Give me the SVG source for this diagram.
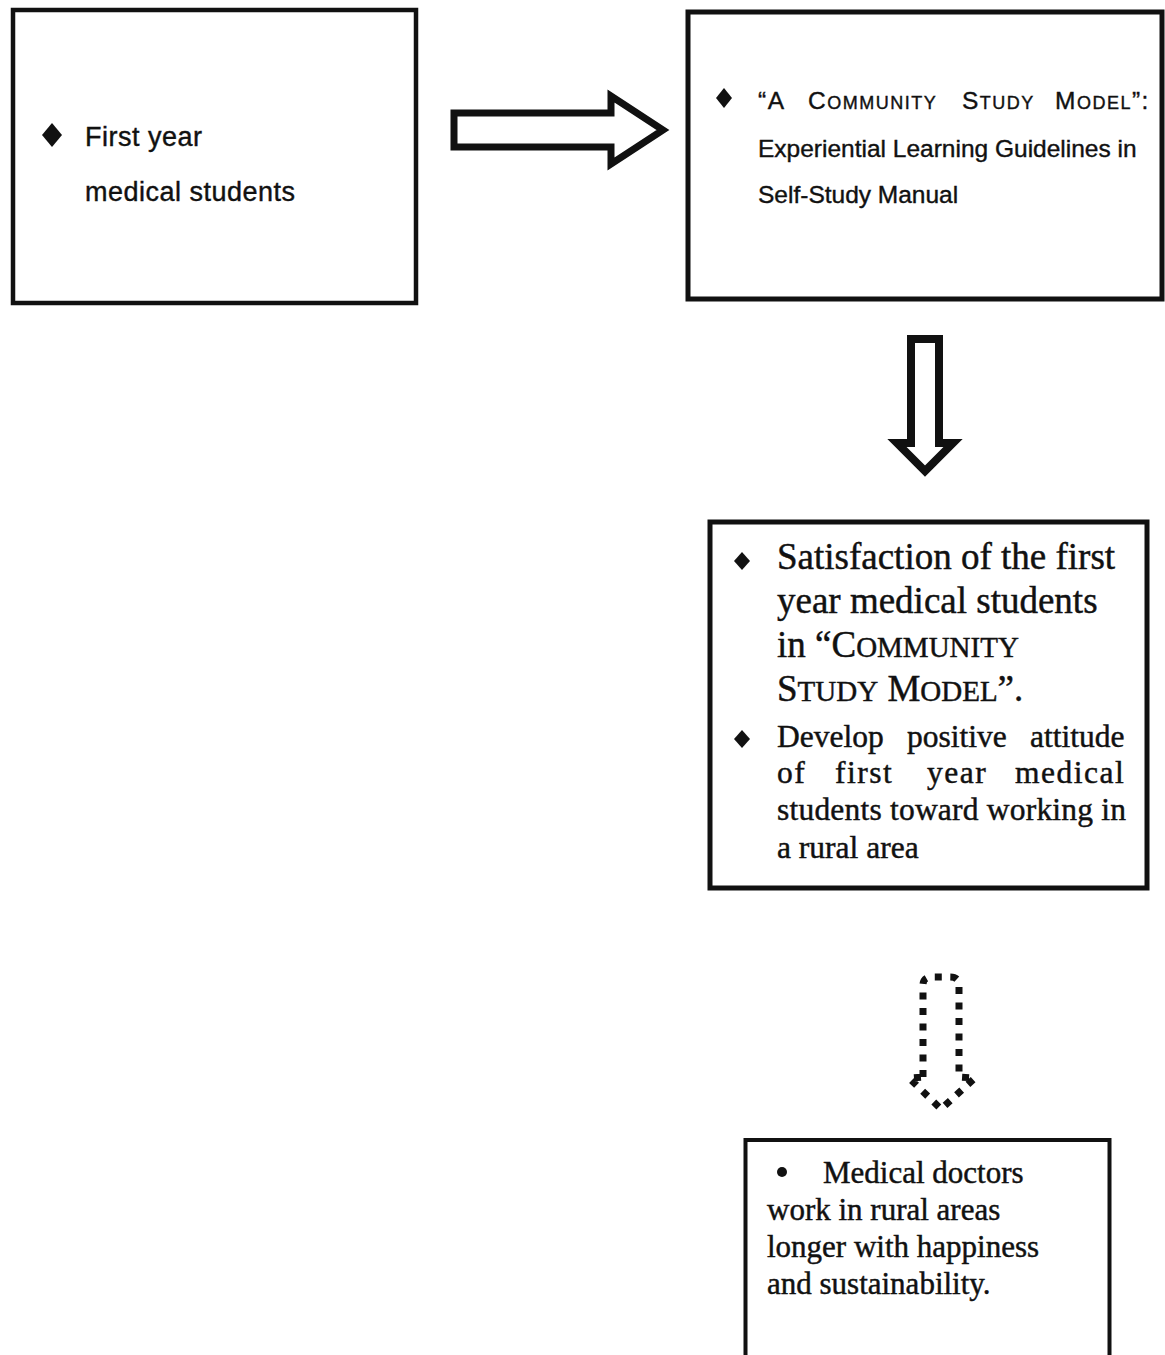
<svg xmlns="http://www.w3.org/2000/svg" width="1165" height="1355" viewBox="0 0 1165 1355">
<style>
.box{fill:#fff;stroke:#111;}
.sans{font-family:"Liberation Sans",Arial,sans-serif;fill:#111;stroke:#111;stroke-width:0.4;}
.serif{font-family:"Liberation Serif","Times New Roman",serif;fill:#111;stroke:#111;stroke-width:0.45;}
.dia{fill:#111;}
.arrow{fill:none;stroke:#111;stroke-linejoin:miter;}
</style>
<rect width="1165" height="1355" fill="#fff"/>

<g id="connectors">
  <path id="arrow-right" class="arrow" stroke-width="7" d="M454 113 L611 113 L611 96 L663 130 L611 164 L611 147 L454 147 Z"/>
  <path id="arrow-down" class="arrow" stroke-width="8" d="M911 339 L939 339 L939 443 L953 443 L925 471 L897 443 L911 443 Z"/>
  <path id="arrow-dotted" class="arrow" stroke-width="7" stroke-dasharray="7 8.5" d="M923 1077 L923 985 Q923 977 932 977 L950 977 Q959 977 959 985 L959 1077 L975 1078 L941 1109 L909 1078 Z"/>
</g>

<g id="node-first-year">
  <rect class="box" x="13" y="10" width="403" height="293" stroke-width="4.5"/>
  <polygon class="dia" points="52,123 62,135 52,147 42,135"/>
  <text class="sans" font-size="27" letter-spacing="0.5" x="85" y="146">First year</text>
  <text class="sans" font-size="27" letter-spacing="0.5" x="85" y="201">medical students</text>
</g>

<g id="node-model">
  <rect class="box" x="688" y="12" width="474" height="287" stroke-width="5"/>
  <polygon class="dia" points="724,88 732,98 724,108 716,98"/>
  <text class="sans" font-size="24.5" y="109" letter-spacing="1.5">
    <tspan x="758">“A</tspan>
    <tspan x="808">C<tspan font-size="18">OMMUNITY</tspan></tspan>
    <tspan x="962">S<tspan font-size="18">TUDY</tspan></tspan>
    <tspan x="1055">M<tspan font-size="18">ODEL</tspan>”:</tspan>
  </text>
  <text class="sans" font-size="24.5" x="758" y="157">Experiential Learning Guidelines in</text>
  <text class="sans" font-size="24.5" x="758" y="203">Self-Study Manual</text>
</g>

<g id="node-satisfaction">
  <rect class="box" x="710" y="522" width="437" height="366" stroke-width="5"/>
  <polygon class="dia" points="742,552 750,561 742,570 734,561"/>
  <text class="serif" font-size="37" x="777" y="569">Satisfaction of the first</text>
  <text class="serif" font-size="37" x="777" y="613">year medical students</text>
  <text class="serif" font-size="37" x="777" y="657">in “C<tspan font-size="29">OMMUNITY</tspan></text>
  <text class="serif" font-size="37" x="777" y="701">S<tspan font-size="29">TUDY</tspan> M<tspan font-size="29">ODEL</tspan>”.</text>
  <polygon class="dia" points="742,730 750,739 742,748 734,739"/>
  <text class="serif" font-size="31.5" y="747"><tspan x="777">Develop</tspan><tspan x="907">positive</tspan><tspan x="1030">attitude</tspan></text>
  <text class="serif" font-size="31.5" y="783" letter-spacing="1.5"><tspan x="777">of</tspan><tspan x="835">first</tspan><tspan x="927">year</tspan><tspan x="1015">medical</tspan></text>
  <text class="serif" font-size="31.5" x="777" y="820" textLength="349" lengthAdjust="spacing">students toward working in</text>
  <text class="serif" font-size="31.5" x="777" y="858">a rural area</text>
</g>

<g id="node-doctors">
  <rect class="box" x="745.5" y="1140" width="364" height="240" stroke-width="4"/>
  <circle class="dia" cx="782" cy="1172" r="5"/>
  <text class="serif" font-size="31" x="823" y="1183">Medical doctors</text>
  <text class="serif" font-size="31" x="767" y="1220">work in rural areas</text>
  <text class="serif" font-size="31" x="767" y="1257">longer with happiness</text>
  <text class="serif" font-size="31" x="767" y="1294">and sustainability.</text>
</g>
</svg>
